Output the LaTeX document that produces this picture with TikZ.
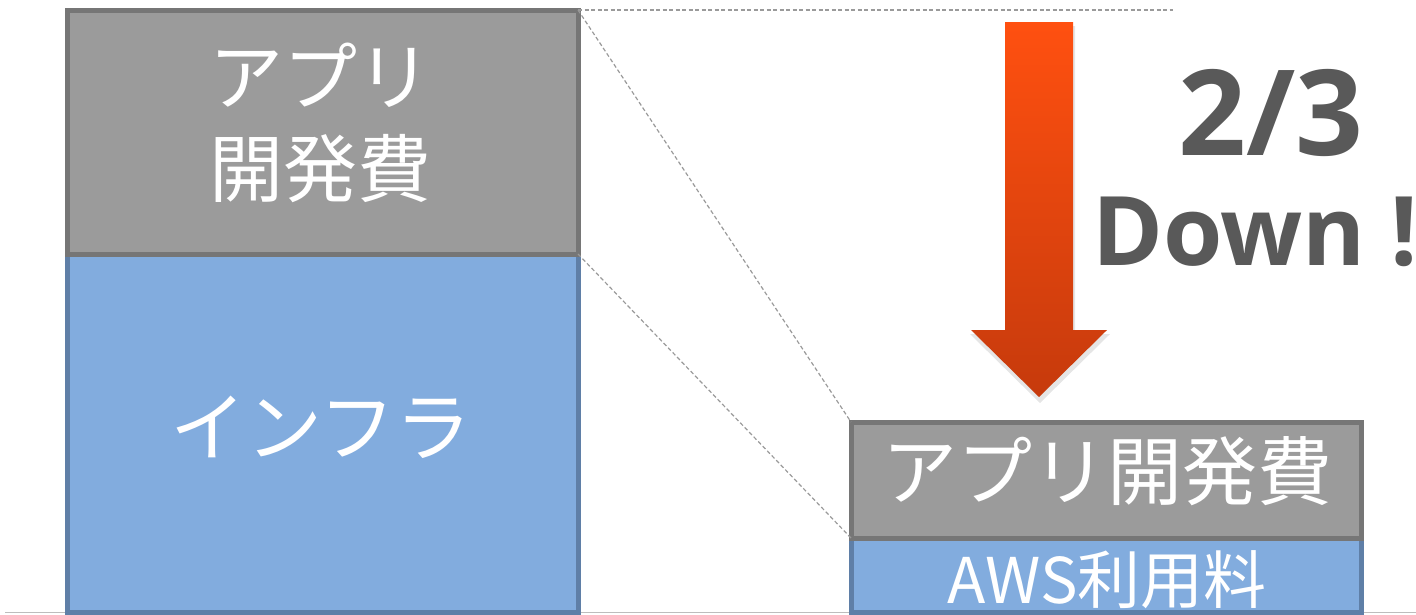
\documentclass[tikz,border=0pt]{standalone}
\usepackage{fontspec}
\setmainfont{Open Sans}
\newfontfamily\jp{Noto Sans CJK JP}
\newfontfamily\bigsans{Open Sans}
\definecolor{gfill}{HTML}{9B9B9B}
\definecolor{gline}{HTML}{767676}
\definecolor{bfill}{HTML}{82ACDE}
\definecolor{bline}{HTML}{5F7FA7}
\definecolor{txtdark}{HTML}{595959}
\definecolor{dashc}{HTML}{9A9A9A}
\definecolor{arrtop}{HTML}{FF5010}
\definecolor{arrbot}{HTML}{C63A0C}
\definecolor{basec}{HTML}{BDBDBD}
\tikzset{
  graybox/.style={draw=gline, fill=gfill, line width=5pt, inner sep=0pt, outer sep=0pt, rectangle},
  bluebox/.style={draw=bline, fill=bfill, line width=5pt, inner sep=0pt, outer sep=0pt, rectangle},
  jptext/.style={text=white, inner sep=0pt, align=center, font=\jp},
  guide/.style={draw=dashc, line width=1.2pt, dash pattern=on 4pt off 2.5pt},
  bigtext/.style={text=txtdark, inner sep=0pt, font=\bigsans\bfseries}
}
\begin{document}
\begin{tikzpicture}[x=1pt,y=-1pt]
\useasboundingbox (0,0) rectangle (1416,614);
\clip (0,0) rectangle (1416,614);
% baseline
\coordinate (bl) at (5,612.5);
\coordinate (br) at (1416,612.5);
\draw[basec, line width=1.5pt] (bl) -- (br);
% left bar
\node[bluebox, minimum width=511pt, minimum height=358pt] (linf) at (322.5,433) {};
\node[graybox, minimum width=511pt, minimum height=244pt] (lapp) at (322.5,132) {};
% right bar
\node[bluebox, minimum width=510pt, minimum height=74pt] (rinf) at (1106,575) {};
\node[graybox, minimum width=510pt, minimum height=116pt] (rapp) at (1106,480) {};
% guides
\coordinate (gend) at (1173,10);
\draw[guide] (lapp.north east) -- (gend);
\draw[guide] (lapp.north east) -- (rapp.north west);
\draw[guide] (lapp.south east) -- (rapp.south west);
% texts
\node[jptext, font=\jp\fontsize{74}{92}\selectfont] (tl) at (320,123) {アプリ\\開発費};
\node[jptext, font=\jp\fontsize{76}{92}\selectfont] (ti) at (321,427) {インフラ};
\node[jptext, font=\jp\fontsize{75}{80}\selectfont] (tr) at (1107,471) {アプリ開発費};
\node[jptext, font=\jp\fontsize{63}{66}\selectfont] (ta) at (1107,580) {AWS利用料};
% arrow
\path[fill=black, opacity=0.10] (1005,26) -- (1075,26) -- (1075,334) -- (1110,334) -- (1040,403) -- (970,334) -- (1005,334) -- cycle;
\shade[top color=arrtop, bottom color=arrbot] (1005,22) -- (1073,22) -- (1073,330) -- (1107,330) -- (1039,397) -- (971,330) -- (1005,330) -- cycle;
% big text
\node[bigtext, font=\bigsans\bfseries\fontsize{119}{120}\selectfont] (frac) at (1271,113) {2/3};
\node[bigtext, font=\bigsans\bfseries\fontsize{96}{100}\selectfont, anchor=west] (down) at (1092,232) {Down !};
\end{tikzpicture}
\end{document}
